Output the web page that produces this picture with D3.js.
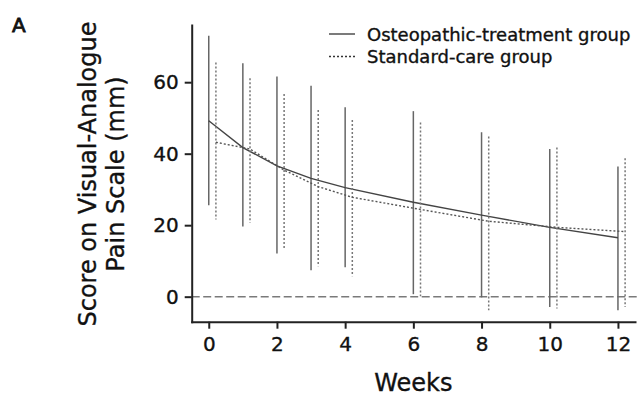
<!DOCTYPE html>
<meta charset="utf-8">
<style>
    body { margin: 0; background: #fff; }
    svg { font-family: "DejaVu Sans", sans-serif; }
    .axis path, .axis line { stroke: #222; stroke-width: 2px; }
    .axis text { font-size: 20px; fill: #111; font-family: "DejaVu Sans", sans-serif; }
    text { stroke: #111; stroke-width: 0.35px; }
</style>
<svg width="640" height="396"></svg>
<script src="https://cdn.jsdelivr.net/npm/d3@7"></script>
<script>
    // weeks of follow-up
    const weeks = [0, 1, 2, 3, 4, 6, 8, 10, 12];

    // osteopathic-treatment group: mean and bar ends
    const osteoMean = [49.2, 41.7, 36.6, 33.1, 30.5, 26.4, 22.8, 19.4, 16.5];
    const osteoHigh = [73.0, 65.3, 61.6, 59.0, 53.0, 51.9, 46.0, 41.3, 36.4];
    const osteoLow = [25.6, 19.6, 12.1, 7.4, 8.2, 0.7, -0.2, -2.9, -3.8];

    // standard-care group
    const stdMean = [43.2, 41.3, 35.4, 30.8, 27.8, 24.4, 21.1, 19.4, 18.2];
    const stdHigh = [65.5, 61.1, 56.7, 52.2, 49.4, 48.7, 44.8, 41.7, 38.7];
    const stdLow = [21.6, 20.7, 13.2, 8.5, 5.7, 0.1, -3.8, -3.3, -2.9];

    const xTicks = [0, 2, 4, 6, 8, 10, 12];
    const yTicks = [0, 20, 40, 60];

    const svg = d3.select("svg");

    const x = d3.scaleLinear().domain([-0.5, 12.5]).range([191.7, 635]);
    const y = d3.scaleLinear().domain([-7, 76]).range([321.7, 25]);
    const shift = 0.21; // standard-care points drawn slightly to the right

    const groups = [
        { id: "Osteopathic-treatment group", mean: osteoMean, hi: osteoHigh, lo: osteoLow, dx: 0,
          barColor: "#666", lineColor: "#444", dash: null },
        { id: "Standard-care group", mean: stdMean, hi: stdHigh, lo: stdLow, dx: shift,
          barColor: "#777", lineColor: "#555", dash: "2,2" }
    ];

    // zero reference line
    svg.append("line")
        .attr("x1", x.range()[0]).attr("x2", 640)
        .attr("y1", y(0)).attr("y2", y(0))
        .attr("stroke", "#7a7a7a")
        .attr("stroke-width", 1.5)
        .attr("stroke-dasharray", "8,3.5");

    const line = d3.line()
        .x(d => x(d.week))
        .y(d => y(d.value));

    groups.forEach(gr => {
        const pts = weeks.map((w, i) => ({ week: w + gr.dx, value: gr.mean[i], hi: gr.hi[i], lo: gr.lo[i] }));

        svg.append("g").selectAll("line")
            .data(pts)
            .enter().append("line")
            .attr("x1", d => x(d.week)).attr("x2", d => x(d.week))
            .attr("y1", d => y(d.hi)).attr("y2", d => y(d.lo))
            .attr("stroke", gr.barColor)
            .attr("stroke-width", 1.5)
            .attr("stroke-dasharray", gr.dash);

        svg.append("path")
            .datum(pts)
            .attr("d", line)
            .attr("fill", "none")
            .attr("stroke", gr.lineColor)
            .attr("stroke-width", 1.4)
            .attr("stroke-dasharray", gr.dash);
    });

    svg.append("g")
        .attr("class", "axis")
        .attr("transform", "translate(0," + y.range()[0] + ")")
        .call(d3.axisBottom(x).tickValues(xTicks).tickSize(7).tickSizeOuter(0).tickPadding(8));

    svg.append("g")
        .attr("class", "axis")
        .attr("transform", "translate(" + x.range()[0] + ",0)")
        .call(d3.axisLeft(y).tickValues(yTicks).tickSize(7).tickSizeOuter(0).tickPadding(6));

    svg.selectAll(".axis .domain").attr("stroke-linecap", "square");

    // axis titles
    svg.append("text")
        .attr("x", x(6)).attr("y", 391)
        .attr("text-anchor", "middle")
        .style("font-size", "24px").attr("fill", "#111")
        .text("Weeks");

    const yt = svg.append("text")
        .attr("transform", "translate(96,174) rotate(-90)")
        .attr("text-anchor", "middle")
        .style("font-size", "24px").attr("fill", "#111");
    yt.append("tspan").attr("x", 0).attr("y", 0).text("Score on Visual-Analogue");
    yt.append("tspan").attr("x", 0).attr("y", 28).text("Pain Scale (mm)");

    svg.append("text")
        .attr("x", 12).attr("y", 32)
        .style("font-size", "20px").style("stroke-width", "0.8px").attr("fill", "#111")
        .text("A");

    // legend
    const legend = svg.append("g").attr("transform", "translate(329,34)");
    groups.forEach((gr, i) => {
        legend.append("line")
            .attr("x1", 0).attr("x2", 26)
            .attr("y1", i * 22.5).attr("y2", i * 22.5)
            .attr("stroke", "#333")
            .attr("stroke-width", 1.3)
            .attr("stroke-dasharray", gr.dash);
        legend.append("text")
            .attr("x", 38).attr("y", i * 22.5 + 6.5)
            .style("font-size", "18px").attr("fill", "#111")
            .text(gr.id);
    });
</script>
